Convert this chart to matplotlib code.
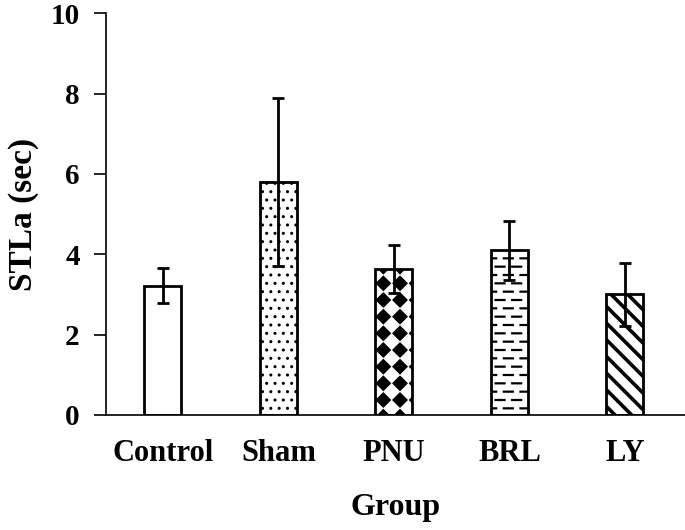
import matplotlib.pyplot as plt
import numpy as np
from matplotlib import hatch as mhatch
from matplotlib.path import Path

groups = ['Control', 'Sham', 'PNU', 'BRL', 'LY']
stla_mean = [3.22, 5.80, 3.63, 4.10, 3.00]
stla_err = [0.43, 2.10, 0.60, 0.74, 0.78]
hatches = ['', '..', '*', 'o', '\\\\']
hatch_lw = [1.0, 1.0, 1.0, 1.6, 2.6]


# filled diamond grid, used for the '*' hatch
class DiamondHatch(mhatch.HatchPatternBase):
    def __init__(self, hatch, density):
        self.n = hatch.count('*') * density
        self.num_vertices = (self.n + 1) ** 2 * 5 if self.n else 0

    def set_vertices_and_codes(self, vertices, codes):
        r = 0.42 / self.n
        k = 0
        for j in range(self.n + 1):
            for i in range(self.n + 1):
                cx, cy = i / self.n, j / self.n
                vertices[k:k + 5] = [(cx, cy + r), (cx + r, cy), (cx, cy - r),
                                     (cx - r, cy), (cx, cy + r)]
                codes[k:k + 5] = [Path.MOVETO, Path.LINETO, Path.LINETO,
                                  Path.LINETO, Path.CLOSEPOLY]
                k += 5


# staggered short dashes, used for the 'o' hatch
class DashHatch(mhatch.HatchPatternBase):
    def __init__(self, hatch, density):
        self.n = hatch.count('o') * density
        self.num_vertices = (2 * self.n + 1) * (self.n + 1) * 2 if self.n else 0

    def set_vertices_and_codes(self, vertices, codes):
        half = 0.27 / self.n
        k = 0
        for j in range(2 * self.n + 1):
            y = j / (2 * self.n)
            shift = 0.5 if j % 2 else 0.0
            for i in range(self.n + 1):
                x = (i + shift) / self.n
                vertices[k:k + 2] = [(x - half, y), (x + half, y)]
                codes[k:k + 2] = [Path.MOVETO, Path.LINETO]
                k += 2


mhatch._hatch_types = [h for h in mhatch._hatch_types
                       if h not in (mhatch.Stars, mhatch.SmallCircles)]
mhatch._hatch_types += [DiamondHatch, DashHatch]

plt.rcParams['font.family'] = ['Liberation Serif', 'DejaVu Serif']
plt.rcParams['font.weight'] = 'bold'

fig = plt.figure(figsize=(6.85, 5.3), dpi=100)
ax = fig.add_axes([0.155, 0.217, 0.845, 0.758])

x = np.arange(len(groups))
for i in range(len(groups)):
    with plt.rc_context({'hatch.linewidth': hatch_lw[i]}):
        ax.bar(x[i], stla_mean[i], width=0.32, color='white', edgecolor='black',
               linewidth=2, hatch=hatches[i], zorder=2)
ax.errorbar(x, stla_mean, yerr=stla_err, fmt='none', ecolor='black',
            elinewidth=2, capsize=4.5, capthick=2, zorder=3)

ax.set_xlim(-0.49, 4.52)
ax.set_ylim(0, 10)
ax.set_yticks(np.arange(0, 11, 2))
ax.set_xticks(x)
ax.set_xticklabels(groups, fontsize=22, fontweight='bold')
ax.tick_params(axis='x', length=0, pad=17)
ax.tick_params(axis='y', length=9, width=1.2, labelsize=21, pad=10)
for lab in ax.get_yticklabels():
    lab.set_fontweight('bold')

ax.spines['top'].set_visible(False)
ax.spines['right'].set_visible(False)
ax.spines['left'].set_linewidth(1.2)
ax.spines['bottom'].set_linewidth(1.2)

ax.set_ylabel('STLa (sec)', fontsize=24, fontweight='bold', labelpad=8)
ax.set_xlabel('Group', fontsize=23, fontweight='bold', labelpad=18)

plt.savefig('out.png', dpi=100)
